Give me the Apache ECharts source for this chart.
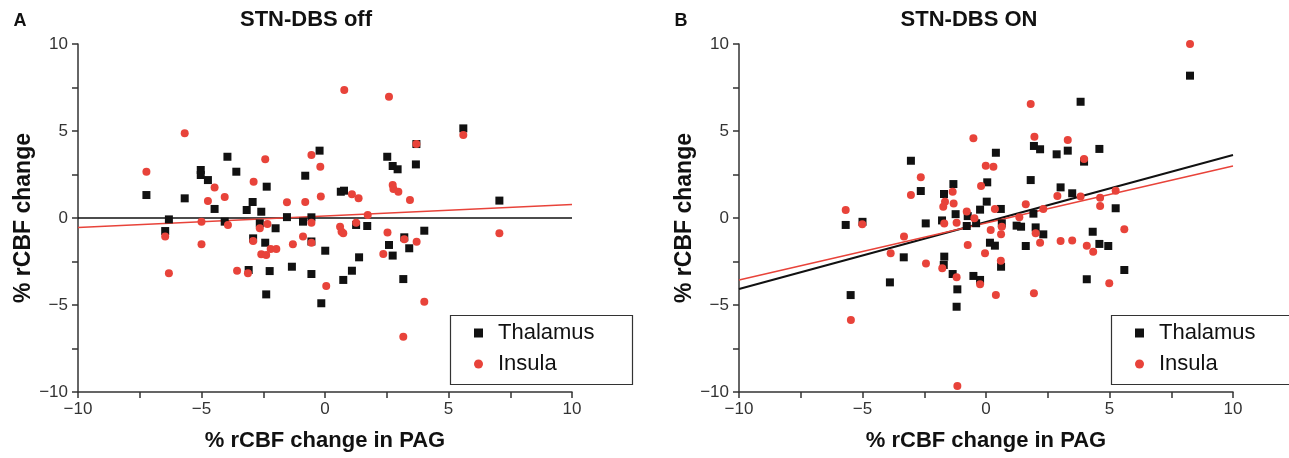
<!DOCTYPE html>
<html>
<head>
<meta charset="utf-8">
<script src="https://cdn.jsdelivr.net/npm/echarts@6/dist/echarts.min.js"></script>
<style>
  html, body { margin: 0; padding: 0; background: #fff; }
  #chart { width: 1289px; height: 458px; }
</style>
</head>
<body>
<div id="chart"></div>
<script>
// ---------- data ----------
const panelTitles = ['STN-DBS off', 'STN-DBS ON'];
const panelLetters = ['A', 'B'];
const seriesNames = ['Thalamus', 'Insula'];
const xAxisName = '% rCBF change in PAG';
const yAxisName = '% rCBF change';
const axisTicks = [-10, -5, 0, 5, 10];

const thalamusA = [[-7.23,1.32],[-6.32,-0.08],[-6.47,-0.75],[-5.68,1.13],[-5.03,2.76],[-5.03,2.47],[-4.74,2.18],[-4.47,0.52],[-4.06,-0.21],[-3.95,3.52],[-3.59,2.66],[-3.17,0.46],[-3.09,-2.99],[-2.93,0.92],[-2.91,-1.17],[-2.64,-0.31],[-2.58,0.36],[-2.36,1.80],[-2.42,-1.42],[-2.0,-0.59],[-2.24,-3.05],[-2.38,-4.39],[-1.54,0.05],[-1.34,-2.80],[-0.89,-0.21],[-0.80,2.43],[-0.55,0.04],[-0.55,-1.35],[-0.55,-3.22],[-0.22,3.87],[0.01,-1.88],[-0.15,-4.90],[0.64,1.51],[0.77,1.57],[1.26,-0.40],[1.71,-0.46],[1.38,-2.26],[1.09,-3.03],[0.74,-3.56],[2.52,3.52],[2.74,2.99],[2.94,2.80],[3.68,3.08],[3.70,4.25],[5.60,5.15],[7.06,1.00],[2.59,-1.55],[2.74,-2.16],[3.21,-1.11],[3.41,-1.74],[4.02,-0.73],[3.17,-3.51]];
const insulaA = [[-7.23,2.66],[-6.47,-1.07],[-6.32,-3.18],[-5.68,4.87],[-5.0,-0.21],[-5.0,-1.51],[-4.74,0.98],[-4.47,1.76],[-4.06,1.21],[-3.93,-0.40],[-3.56,-3.03],[-3.12,-3.18],[-2.89,2.09],[-2.91,-1.32],[-2.64,-0.59],[-2.42,3.37],[-2.33,-0.34],[-2.58,-2.09],[-2.38,-2.13],[-2.20,-1.78],[-1.97,-1.78],[-1.54,0.90],[-1.30,-1.51],[-0.89,-1.07],[-0.80,0.92],[-0.55,3.62],[-0.55,-0.27],[-0.55,-1.42],[-0.19,2.95],[-0.17,1.23],[0.05,-3.91],[0.78,7.36],[1.09,1.36],[1.36,1.13],[1.73,0.17],[0.61,-0.50],[0.67,-0.79],[0.74,-0.88],[1.26,-0.27],[2.59,6.97],[2.74,1.90],[2.77,1.67],[2.97,1.51],[3.44,1.03],[3.70,4.25],[5.60,4.77],[2.53,-0.84],[2.36,-2.07],[3.21,-1.22],[3.71,-1.36],[4.02,-4.81],[3.17,-6.82],[7.06,-0.88]];
const thalamusB = [[-5.68,-0.40],[-5.0,-0.22],[-5.48,-4.43],[-3.89,-3.70],[-3.33,-2.26],[-3.04,3.29],[-2.64,1.55],[-2.44,-0.31],[-1.78,-0.14],[-1.70,1.38],[-1.32,1.95],[-1.23,0.22],[-1.69,-2.22],[-1.71,-2.70],[-1.35,-3.22],[-1.16,-4.10],[-1.19,-5.10],[-0.74,0.11],[-0.78,-0.46],[-0.40,-0.30],[-0.24,0.48],[-0.51,-3.33],[-0.24,-3.56],[0.40,3.75],[0.05,2.05],[0.03,0.94],[0.60,0.52],[0.64,-0.31],[0.16,-1.42],[0.36,-1.59],[0.61,-2.80],[1.24,-0.44],[1.42,-0.50],[1.61,-1.61],[1.81,2.18],[1.92,0.25],[1.94,4.14],[2.19,3.95],[2.01,-0.54],[2.32,-0.94],[2.86,3.66],[3.31,3.87],[3.02,1.76],[3.49,1.42],[3.83,6.68],[3.97,3.24],[4.59,3.97],[4.32,-0.79],[4.59,-1.49],[4.95,-1.61],[4.08,-3.52],[5.25,0.56],[5.60,-2.99],[8.26,8.18]];
const insulaB = [[-5.68,0.46],[-5.01,-0.36],[-5.47,-5.86],[-3.86,-2.03],[-3.32,-1.07],[-3.04,1.32],[-2.64,2.34],[-2.43,-2.61],[-1.69,-0.31],[-1.35,1.51],[-1.66,0.94],[-1.73,0.65],[-1.31,0.84],[-1.77,-2.89],[-1.19,-3.41],[-1.16,-9.66],[-1.19,-0.27],[-0.78,0.38],[-0.74,-1.55],[-0.47,-0.01],[-0.51,4.58],[-0.20,1.84],[-0.01,3.01],[-0.24,-3.81],[-0.04,-2.03],[0.30,2.95],[0.36,0.52],[0.19,-0.69],[0.64,-0.50],[0.61,-0.94],[0.60,-2.45],[0.40,-4.43],[1.35,0.05],[1.61,0.79],[1.81,6.55],[1.96,4.67],[2.01,-0.88],[2.19,-1.42],[2.32,0.52],[2.89,1.26],[3.02,-1.32],[3.31,4.48],[3.49,-1.30],[3.83,1.23],[3.97,3.39],[4.08,-1.59],[4.34,-1.94],[4.62,1.17],[4.62,0.69],[5.25,1.57],[5.60,-0.65],[4.99,-3.75],[1.94,-4.33],[8.26,10.0]];

// regression line end points (x = -10 and x = 10)
const fitThalamusA = [[-10, 0.0], [10, 0.0]];
const fitInsulaA = [[-10, -0.55], [10, 0.78]];
const fitThalamusB = [[-10, -4.08], [10, 3.62]];
const fitInsulaB = [[-10, -3.56], [10, 2.99]];

// ---------- styling ----------
const BLACK = '#111111';
const RED = '#e8433a';
const AXIS = '#333333';
const FONT = '"Liberation Sans", Arial, Helvetica, sans-serif';

function fmt(v) { return String(v).replace('-', '\u2212'); }

function makeXAxis(gi) {
  return {
    gridIndex: gi, type: 'value', min: axisTicks[0], max: axisTicks[axisTicks.length - 1], interval: 5,
    name: xAxisName, nameLocation: 'middle', nameGap: 38,
    nameTextStyle: { fontFamily: FONT, fontSize: 22, fontWeight: 'bold', color: '#111' },
    axisLine: { show: true, onZero: false, lineStyle: { color: AXIS, width: 1.5 } },
    axisTick: { show: true, length: 6, lineStyle: { color: AXIS, width: 1.5 } },
    minorTick: { show: true, splitNumber: 2, length: 6, lineStyle: { color: AXIS, width: 1.5 } },
    axisLabel: { margin: 9, fontFamily: FONT, fontSize: 17, color: '#333', formatter: fmt },
    splitLine: { show: false }
  };
}
function makeYAxis(gi) {
  return {
    gridIndex: gi, type: 'value', min: axisTicks[0], max: axisTicks[axisTicks.length - 1], interval: 5,
    name: yAxisName, nameLocation: 'middle', nameGap: 42, nameRotate: 90,
    nameTextStyle: { fontFamily: FONT, fontSize: 23, fontWeight: 'bold', color: '#111' },
    axisLine: { show: true, onZero: false, lineStyle: { color: AXIS, width: 1.5 } },
    axisTick: { show: true, length: 6, lineStyle: { color: AXIS, width: 1.5 } },
    minorTick: { show: true, splitNumber: 2, length: 6, lineStyle: { color: AXIS, width: 1.5 } },
    axisLabel: { margin: 10, fontFamily: FONT, fontSize: 17, color: '#333', formatter: fmt },
    splitLine: { show: false }
  };
}
function scatter(name, data, gi, color, symbol) {
  return {
    name: name, type: 'scatter', xAxisIndex: gi, yAxisIndex: gi, data: data,
    symbol: symbol, symbolSize: 8, itemStyle: { color: color, opacity: 1 }, z: 3,
    emphasis: { disabled: true }
  };
}
function fitLine(data, gi, color, width) {
  return {
    type: 'line', xAxisIndex: gi, yAxisIndex: gi, data: data, showSymbol: false,
    lineStyle: { color: color, width: width }, z: 2, silent: true, animation: false
  };
}
function legendAt(left) {
  return {
    orient: 'vertical', left: left, top: 322, padding: 0, itemGap: 9,
    itemWidth: 9, itemHeight: 9, selectedMode: false,
    data: [{ name: seriesNames[0], icon: 'rect' }, { name: seriesNames[1], icon: 'circle' }],
    textStyle: { fontFamily: FONT, fontSize: 22, color: '#111', padding: [0, 0, 0, 10] }
  };
}
function legendBox(x) {
  return { type: 'rect', left: x, top: 313, shape: { width: 182, height: 69 },
    style: { fill: 'none', stroke: '#333', lineWidth: 1.2 }, z: 1 };
}
function label(text, x, y, size) {
  return { type: 'text', x: x, y: y,
    style: { text: text, fill: '#111', font: 'bold ' + size + 'px ' + FONT,
      textAlign: 'center', textVerticalAlign: 'middle' }, z: 10 };
}

const chart = echarts.init(document.getElementById('chart'), null, { renderer: 'canvas' });
chart.setOption({
  animation: false,
  backgroundColor: '#ffffff',
  grid: [
    { left: 78, right: 717, top: 44, bottom: 66 },
    { left: 739, right: 56, top: 44, bottom: 66 }
  ],
  xAxis: [makeXAxis(0), makeXAxis(1)],
  yAxis: [makeYAxis(0), makeYAxis(1)],
  legend: [legendAt(474), legendAt(1135)],
  graphic: [
    legendBox(448), legendBox(1109),
    label(panelLetters[0], 20, 21, 18), label(panelLetters[1], 681, 21, 18),
    label(panelTitles[0], 306, 20, 22), label(panelTitles[1], 969, 20, 22)
  ],
  series: [
    fitLine(fitThalamusA, 0, BLACK, 1.5),
    fitLine(fitInsulaA, 0, RED, 1.5),
    scatter(seriesNames[0], thalamusA, 0, BLACK, 'rect'),
    scatter(seriesNames[1], insulaA, 0, RED, 'circle'),
    fitLine(fitThalamusB, 1, BLACK, 2),
    fitLine(fitInsulaB, 1, RED, 1.5),
    scatter(seriesNames[0], thalamusB, 1, BLACK, 'rect'),
    scatter(seriesNames[1], insulaB, 1, RED, 'circle')
  ]
});
</script>
</body>
</html>
